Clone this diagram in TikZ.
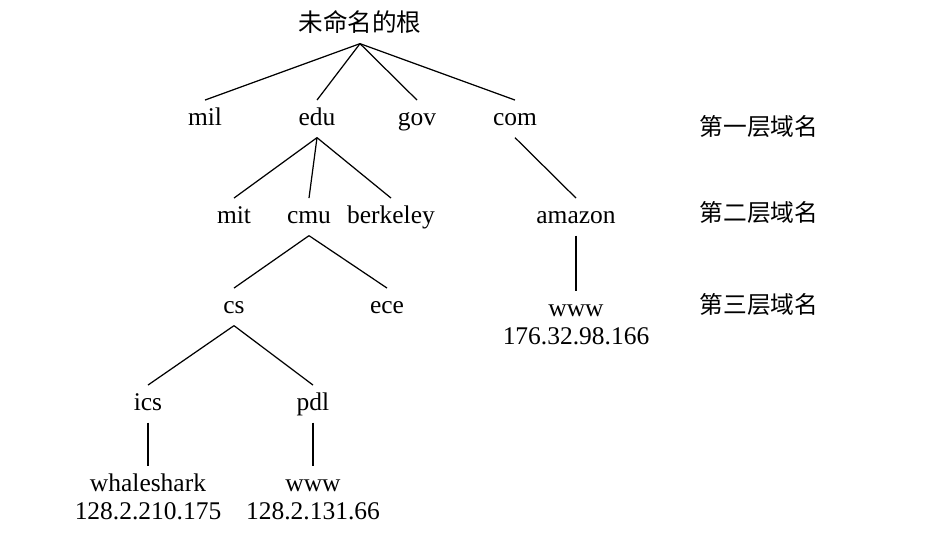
\documentclass[tikz,border=0pt]{standalone}
\usepackage{fontspec}
\setmainfont{Liberation Serif}
\newfontfamily\cjk{Noto Sans CJK SC}

\begin{document}
\begin{tikzpicture}[x=0.02cm,y=-0.02cm,
  dom/.style={anchor=base,font=\fontsize{14.5}{16}\selectfont,inner xsep=0pt,inner ysep=4pt,text height=10pt,text depth=3pt},
  leaf/.style={anchor=north,align=center,font=\fontsize{14.5}{16}\selectfont,inner xsep=0pt,inner ysep=4pt},
  levelname/.style={anchor=base,font=\cjk\fontsize{13.5}{15}\selectfont},
  edge/.style={line width=0.7pt}]
\useasboundingbox (0,0) rectangle (938,535);

% root and top level
\node[dom,font=\cjk\fontsize{14}{15}\selectfont] (root) at (360,31) {未命名的根};
\node[dom] (mil) at (205,125) {mil};
\node[dom] (edu) at (317,125) {edu};
\node[dom] (gov) at (417,125) {gov};
\node[dom] (com) at (515,125) {com};

% second level
\node[dom] (mit) at (234,223) {mit};
\node[dom] (cmu) at (309,223) {cmu};
\node[dom] (berk) at (391,223) {berkeley};
\node[dom] (amazon) at (576,223) {amazon};

% third level and below
\node[dom] (cs) at (234,313) {cs};
\node[dom] (ece) at (387,313) {ece};
\node[dom] (ics) at (148,410) {ics};
\node[dom] (pdl) at (313,410) {pdl};
\node[leaf] (wsk) at (148,466) {whaleshark\\128.2.210.175};
\node[leaf] (pdlwww) at (313,466) {\vphantom{h}www\\128.2.131.66};
\node[leaf] (amzwww) at (576,291) {\vphantom{h}www\\176.32.98.166};

% level names
\node[levelname] (lvl1) at (759,135) {第一层域名};
\node[levelname] (lvl2) at (759,221) {第二层域名};
\node[levelname] (lvl3) at (759,313) {第三层域名};

\draw[edge] (root.south) -- (mil.north);
\draw[edge] (root.south) -- (edu.north);
\draw[edge] (root.south) -- (gov.north);
\draw[edge] (root.south) -- (com.north);
\draw[edge] (edu.south) -- (mit.north);
\draw[edge] (edu.south) -- (cmu.north);
\draw[edge] (edu.south) -- (berk.north);
\draw[edge] (com.south) -- (amazon.north);
\draw[edge] (amazon.south) -- (amzwww.north);
\draw[edge] (cmu.south) -- (cs.north);
\draw[edge] (cmu.south) -- (ece.north);
\draw[edge] (cs.south) -- (ics.north);
\draw[edge] (cs.south) -- (pdl.north);
\draw[edge] (ics.south) -- (wsk.north);
\draw[edge] (pdl.south) -- (pdlwww.north);

\end{tikzpicture}
\end{document}
